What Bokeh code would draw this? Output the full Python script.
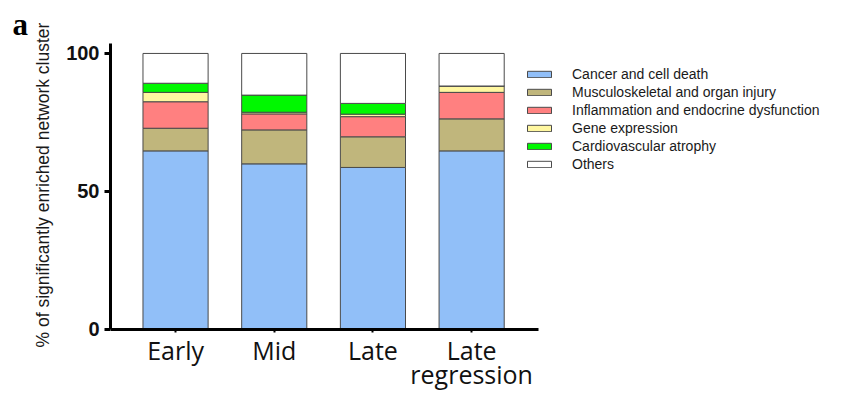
from bokeh.plotting import figure
from bokeh.models import ColumnDataSource, Range1d, FixedTicker, Legend, Title
from bokeh.embed import file_html
from bokeh.resources import INLINE

categories = ["Early", "Mid", "Late", "Late\nregression"]
series_names = ["Cancer and cell death", "Musculoskeletal and organ injury",
                "Inflammation and endocrine dysfunction", "Gene expression",
                "Cardiovascular atrophy", "Others"]
cancer = [64.7, 60.0, 58.7, 64.7]
musculo = [8.2, 12.3, 11.1, 11.6]
inflam = [9.6, 5.8, 7.3, 9.6]
gene = [3.4, 0.6, 0.9, 2.3]
cardio = [3.3, 6.2, 3.9, 0.0]
others = [10.8, 15.1, 18.1, 11.8]
y_ticks = [0, 50, 100]
y_label = "% of significantly enriched network cluster"
colors = ["#91BFF8", "#C0B67C", "#FF8080", "#FFF7A0", "#00F800", "#FFFFFF"]

keys = ["cancer", "musculo", "inflam", "gene", "cardio", "others"]
src = ColumnDataSource(dict(x=list(range(len(categories))), cancer=cancer, musculo=musculo,
                            inflam=inflam, gene=gene, cardio=cardio, others=others))

PX = 2.76  # pixels per percent
X0, X1 = -0.659, 3.677
p = figure(width=846, height=397, output_backend="svg", toolbar_location=None,
           x_range=Range1d(X0, X0 + 736 / 98.7), y_range=Range1d(-68 / PX, 103.6),
           min_border_left=110, min_border_right=0, min_border_top=43, min_border_bottom=0)
p.outline_line_color = None
p.xgrid.visible = False
p.ygrid.visible = False

rs = p.vbar_stack(keys, x="x", width=0.66, source=src, color=colors,
                  line_color="#4A4A4A", line_width=1)

legend = Legend(items=[(n, [r]) for n, r in zip(series_names, rs)],
                location=(414, 225), padding=0, margin=0, spacing=2,
                glyph_width=30, glyph_height=8, label_height=16, label_standoff=18,
                label_text_font="Liberation Sans", label_text_font_size="14px",
                label_text_color="#1A1A1A",
                background_fill_alpha=0, border_line_alpha=0)
p.add_layout(legend, "center")

ya = p.yaxis[0]
ya.ticker = FixedTicker(ticks=y_ticks)
ya.bounds = (0, 103.6)
ya.axis_line_width = 3
ya.major_tick_line_width = 3
ya.major_tick_out = 6
ya.major_tick_in = 0
ya.minor_tick_line_color = None
ya.major_label_text_font = "Liberation Sans"
ya.major_label_text_font_style = "bold"
ya.major_label_text_font_size = "20px"
ya.major_label_text_color = "#111111"
ya.major_label_standoff = 5

p.add_layout(Title(text=y_label, text_font="Liberation Sans", text_font_size="17.5px",
                   text_font_style="normal", text_color="#1A1A1A",
                   align="left", offset=50, standoff=22), "left")

xa = p.xaxis[0]
xa.fixed_location = 0
xa.ticker = FixedTicker(ticks=list(range(len(categories))))
xa.bounds = (X0, X1)
xa.major_label_overrides = {i: c for i, c in enumerate(categories)}
xa.axis_line_width = 3
xa.major_tick_out = 3
xa.major_tick_in = 0
xa.major_tick_line_width = 2
xa.minor_tick_line_color = None
xa.major_label_text_font = "Open Sans"
xa.major_label_text_font_size = "25px"
xa.major_label_text_line_height = 0.70
xa.major_label_text_color = "#111111"
xa.major_label_standoff = 1

p.add_layout(Title(text="a", text_font="Liberation Serif", text_font_size="31px",
                   text_font_style="bold", text_color="#000000", align="left",
                   vertical_align="top", text_line_height=0.6,
                   standoff=0, offset=-98), "above")

open("out.html", "w").write(file_html(p, INLINE))
